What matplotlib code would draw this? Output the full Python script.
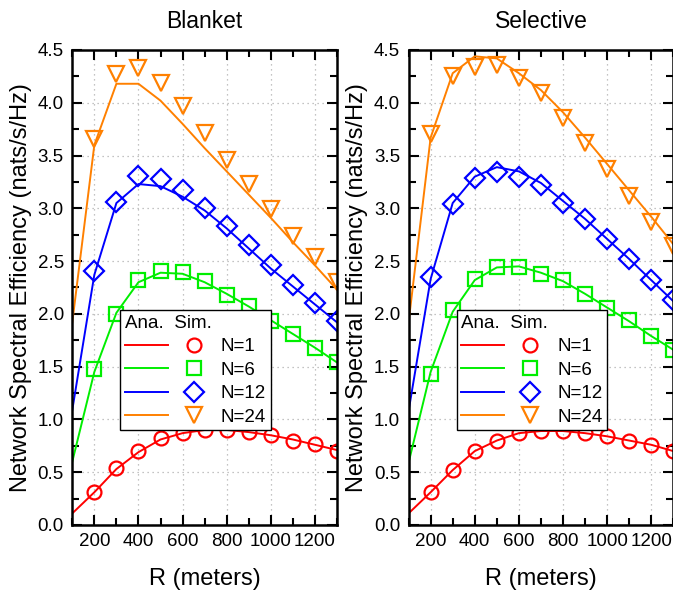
import numpy as np
import matplotlib
matplotlib.use('Agg')
import matplotlib.pyplot as plt
from matplotlib.legend_handler import HandlerTuple
from matplotlib.ticker import MultipleLocator

plt.rcParams['font.family'] = ['Liberation Sans', 'DejaVu Sans']

# distances (meters)
R_ana = [100, 200, 300, 400, 500, 600, 700, 800, 900, 1000, 1100, 1200, 1300]
R_sim = [200, 300, 400, 500, 600, 700, 800, 900, 1000, 1100, 1200, 1300]

# Blanket
bl_ana_1 = [0.11, 0.31, 0.53, 0.69, 0.81, 0.87, 0.90, 0.90, 0.88, 0.85, 0.81, 0.76, 0.71]
bl_ana_6 = [0.60, 1.45, 2.01, 2.30, 2.39, 2.38, 2.30, 2.19, 2.07, 1.94, 1.81, 1.68, 1.54]
bl_ana_12 = [1.09, 2.37, 3.05, 3.23, 3.21, 3.11, 2.98, 2.81, 2.62, 2.43, 2.26, 2.09, 1.92]
bl_ana_24 = [1.92, 3.60, 4.18, 4.18, 4.02, 3.80, 3.57, 3.35, 3.13, 2.91, 2.68, 2.46, 2.23]
bl_sim_1 = [0.31, 0.54, 0.70, 0.82, 0.87, 0.90, 0.90, 0.88, 0.85, 0.80, 0.77, 0.70]
bl_sim_6 = [1.48, 2.00, 2.32, 2.41, 2.40, 2.31, 2.18, 2.07, 1.93, 1.81, 1.68, 1.54]
bl_sim_12 = [2.41, 3.06, 3.31, 3.28, 3.17, 3.00, 2.83, 2.65, 2.46, 2.27, 2.10, 1.93]
bl_sim_24 = [3.66, 4.27, 4.33, 4.19, 3.97, 3.71, 3.46, 3.23, 2.99, 2.74, 2.54, 2.30]

# Selective
se_ana_1 = [0.11, 0.31, 0.52, 0.70, 0.80, 0.87, 0.89, 0.89, 0.87, 0.84, 0.80, 0.76, 0.70]
se_ana_6 = [0.59, 1.45, 2.02, 2.32, 2.44, 2.45, 2.39, 2.31, 2.19, 2.06, 1.93, 1.79, 1.66]
se_ana_12 = [1.08, 2.33, 3.05, 3.30, 3.39, 3.35, 3.24, 3.07, 2.90, 2.71, 2.52, 2.32, 2.12]
se_ana_24 = [1.92, 3.67, 4.28, 4.44, 4.42, 4.28, 4.12, 3.91, 3.67, 3.42, 3.17, 2.92, 2.66]
se_sim_1 = [0.31, 0.52, 0.70, 0.80, 0.87, 0.89, 0.89, 0.87, 0.84, 0.80, 0.76, 0.70]
se_sim_6 = [1.43, 2.04, 2.33, 2.44, 2.44, 2.38, 2.32, 2.19, 2.06, 1.94, 1.79, 1.66]
se_sim_12 = [2.35, 3.04, 3.29, 3.34, 3.30, 3.22, 3.05, 2.90, 2.71, 2.52, 2.32, 2.13]
se_sim_24 = [3.70, 4.25, 4.34, 4.36, 4.23, 4.09, 3.86, 3.62, 3.37, 3.12, 2.87, 2.64]

labels = ['N=1', 'N=6', 'N=12', 'N=24']
colors = ['#ff0000', '#00ee00', '#0000ff', '#ff8000']
markers = ['o', 's', 'D', 'v']
msizes = [10, 9.5, 10.5, 11]

panels = [
    ('Blanket', [bl_ana_1, bl_ana_6, bl_ana_12, bl_ana_24], [bl_sim_1, bl_sim_6, bl_sim_12, bl_sim_24]),
    ('Selective', [se_ana_1, se_ana_6, se_ana_12, se_ana_24], [se_sim_1, se_sim_6, se_sim_12, se_sim_24]),
]

fig = plt.figure(figsize=(6.73, 5.93), dpi=100)
rects = [[0.1074, 0.1147, 0.3933, 0.801], [0.6071, 0.1147, 0.3933, 0.801]]

for rect, (title, ana, sim) in zip(rects, panels):
    ax = fig.add_axes(rect)
    handles = []
    for k in range(4):
        ln, = ax.plot(R_ana, ana[k], '-', color=colors[k], lw=1.4)
        mk, = ax.plot(R_sim, sim[k], linestyle='none', marker=markers[k], ms=msizes[k],
                      mfc='none', mec=colors[k], mew=1.6)
        handles.append((ln, mk))
    ax.set_xlim(100, 1300)
    ax.set_ylim(0, 4.5)
    ax.xaxis.set_major_locator(MultipleLocator(200))
    ax.xaxis.set_minor_locator(MultipleLocator(100))
    ax.yaxis.set_major_locator(MultipleLocator(0.5))
    ax.yaxis.set_minor_locator(MultipleLocator(0.25))
    ax.yaxis.set_major_formatter(matplotlib.ticker.FormatStrFormatter('%.1f'))
    ax.tick_params(which='both', direction='in', top=True, right=True, width=1.5, labelsize=13.5, pad=6)
    ax.tick_params(which='major', length=7)
    ax.tick_params(which='minor', length=5)
    for s in ax.spines.values():
        s.set_linewidth(1.8)
    ax.grid(True, which='major', linestyle=(0, (1, 3)), color='#b0b0b0', lw=0.9)
    ax.set_axisbelow(True)
    ax.set_title(title, fontsize=16.5, pad=16)
    ax.set_xlabel('R (meters)', fontsize=17, labelpad=13)
    ax.set_ylabel('Network Spectral Efficiency (nats/s/Hz)', fontsize=17, labelpad=4)
    leg = ax.legend(handles, labels, handler_map={tuple: HandlerTuple(ndivide=None, pad=0.24)},
                    loc='lower left', bbox_to_anchor=(0.182, 0.199), borderaxespad=0,
                    fontsize=13.5, title='Ana.  Sim.', title_fontsize=13.5, alignment='left',
                    handlelength=4.83, handletextpad=0.29, labelspacing=0.34, borderpad=0.24,
                    fancybox=False, framealpha=1, edgecolor='black')
    leg.get_frame().set_linewidth(1.0)

fig.savefig('out.png', dpi=100)
